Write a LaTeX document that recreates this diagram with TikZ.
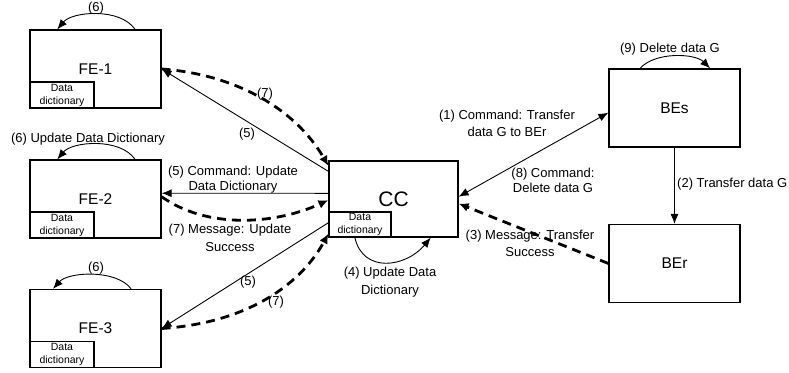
\documentclass[tikz,border=0pt]{standalone}
\usepackage{fontspec}
\setmainfont{Liberation Sans}
\usetikzlibrary{arrows.meta}
\begin{document}
\begin{tikzpicture}[x=1pt,y=-1pt,
 box/.style={draw,line width=1.2pt,minimum width=131pt,minimum height=78pt,inner sep=0pt,font=\fontsize{15.5}{18}\selectfont},
 ddbox/.style={draw,line width=1.2pt,minimum width=64pt,minimum height=26pt,inner sep=0pt,anchor=south west,align=center,font=\fontsize{10.5}{13}\selectfont},
 lbl/.style={font=\fontsize{13}{16.5}\selectfont,align=center,inner sep=0pt},
 sarrow/.style={line width=0.9pt,-{Latex[length=10pt,width=8pt]}},
 sboth/.style={line width=0.9pt,{Latex[length=10pt,width=8pt]}-{Latex[length=10pt,width=8pt]}},
 darrow/.style={line width=2.8pt,dash pattern=on 9pt off 6pt,-{Latex[length=10pt,width=9pt]}},
]
\useasboundingbox (0,0) rectangle (789,372);

% boxes
\node[box] (fe1) at (95.5,69) {FE-1};
\node[box] (fe2) at (95.5,199) {FE-2};
\node[box] (fe3) at (95.5,328.5) {FE-3};
\node[box,minimum width=129pt,minimum height=76pt,font=\fontsize{21}{24}\selectfont] (cc) at (393.5,199) {CC};
\node[box] (bes) at (674.5,108) {BEs};
\node[box] (ber) at (674.5,263.5) {BEr};

\node[ddbox] (dd1) at (fe1.south west) {Data\\dictionary};
\node[ddbox] (dd2) at (fe2.south west) {Data\\dictionary};
\node[ddbox] (dd3) at (fe3.south west) {Data\\dictionary};
\node[ddbox,minimum width=62pt,minimum height=25pt] (ddc) at (cc.south west) {Data\\dictionary};

% self loops
\draw[sarrow] (fe1.45) .. controls +(-15,-22) and +(15,-18) .. (fe1.134);
\draw[sarrow] (fe2.45) .. controls +(-15,-22) and +(15,-18) .. (fe2.134);
\draw[sarrow] (fe3.48) .. controls +(-15,-20) and +(15,-17) .. (fe3.137);
\draw[sarrow] (cc.225) .. controls +(8,36) and +(-25,30) .. (cc.314);
\draw[sarrow] (bes.131) .. controls +(15,-17) and +(-15,-15) .. (bes.48);

% solid connectors
\draw[sarrow] (cc.157) -- (fe1.east);
\draw[sarrow] (cc.175) -- (fe2.5);
\draw[sarrow] (cc.200) -- (fe3.east);
\draw[sboth] (cc.2) -- (bes.184);
\draw[sarrow] (bes.south) -- (ber.north);

% dashed connectors
\draw[darrow] (fe1.east) .. controls +(70,5) and +(-35,-60) .. (cc.153);
\draw[darrow] (fe2.2) .. controls +(45,32) and +(-55,25) .. (cc.181);
\draw[darrow] (fe3.east) .. controls +(80,-5) and +(-30,55) .. (cc.208);
\draw[darrow] (ber.west) -- (cc.356);

% labels
\node[lbl] (l6a) at (96,8) {(6)};
\node[lbl] (l6b) at (88,139) {(6) Update Data Dictionary};
\node[lbl] (l6c) at (96,268) {(6)};
\node[lbl] (l7a) at (265,94) {(7)};
\node[lbl] (l5a) at (247,134) {(5)};
\node[lbl] (l5b) at (233,180) {(5) Command: Update\\[-1.5pt]Data Dictionary};
\node[lbl] (l7b) at (230,238) {(7) Message: Update\\[1.5pt]Success};
\node[lbl] (l5c) at (248,282) {(5)};
\node[lbl] (l7c) at (276,302) {(7)};
\node[lbl] (l4) at (390,282) {(4) Update Data\\[1.5pt]Dictionary};
\node[lbl] (l1) at (507,123.5) {(1) Command: Transfer\\[0.5pt]data G to BEr};
\node[lbl] (l8) at (553,180.5) {(8) Command:\\[-1.5pt]Delete data G};
\node[lbl] (l3) at (530,243.5) {(3) Message: Transfer\\[0.5pt]Success};
\node[lbl] (l9) at (670,49) {(9) Delete data G};
\node[lbl,anchor=west] (l2) at (677,184) {(2) Transfer data G};
\end{tikzpicture}
\end{document}
